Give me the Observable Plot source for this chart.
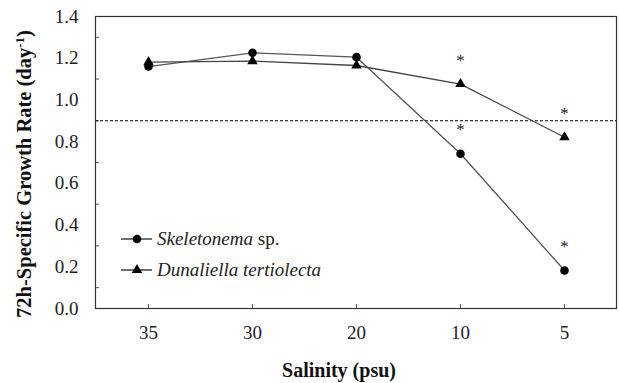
<!DOCTYPE html>
<html>
<head>
<meta charset="utf-8">
<script src="https://cdn.jsdelivr.net/npm/d3@7"></script>
<script src="https://cdn.jsdelivr.net/npm/@observablehq/plot@0.6"></script>
<style>
  html, body { margin: 0; padding: 0; background: #fff; }
  #chart { width: 619px; height: 383px; }
</style>
</head>
<body>
<div id="chart"></div>
<script>
const salinity = ["35", "30", "20", "10", "5"];
const skeletonema = [1.16, 1.226, 1.205, 0.742, 0.182];
const dunaliella = [1.181, 1.186, 1.165, 1.076, 0.821];
const skeletonemaSig = [false, false, false, true, true];
const dunaliellaSig = [false, false, false, true, true];
const yTicks = [0, 0.2, 0.4, 0.6, 0.8, 1.0, 1.2, 1.4];
const yMinorTicks = [0.1, 0.3, 0.5, 0.7, 0.9, 1.1, 1.3];
const threshold = 0.9;

const rows = [];
salinity.forEach((s, i) => {
  rows.push({sal: s, value: skeletonema[i], series: "Skeletonema", sig: skeletonemaSig[i]});
  rows.push({sal: s, value: dunaliella[i], series: "Dunaliella", sig: dunaliellaSig[i]});
});
const sk = rows.filter(d => d.series === "Skeletonema");
const du = rows.filter(d => d.series === "Dunaliella");

const font = "Liberation Serif, Times New Roman, serif";

const plot = Plot.plot({
  width: 619,
  height: 383,
  marginLeft: 95,
  marginRight: 3,
  marginTop: 16,
  marginBottom: 75,
  style: {fontFamily: font, fontSize: "19px", color: "#222", background: "#fff"},
  x: {type: "point", domain: salinity, padding: 0.5},
  y: {domain: [0, 1.4]},
  marks: [
    Plot.axisY({ticks: yTicks, tickSize: 0, tickPadding: 17, tickFormat: d3.format(".1f"), label: null, fontSize: 19, fontFamily: font, fill: "#222"}),
    Plot.axisY({ticks: yMinorTicks, tickSize: 4, dx: 4, text: null, label: null, stroke: "#555"}),
    Plot.axisX({tickSize: 0, tickPadding: 17, label: null, fontSize: 19, fontFamily: font, fill: "#222"}),
    Plot.axisX({tickSize: 4, dy: -4, text: null, label: null, stroke: "#555"}),
    Plot.ruleY([threshold], {stroke: "#000", strokeWidth: 1.1, strokeDasharray: "3,2"}),
    Plot.line(sk, {x: "sal", y: "value", stroke: "#555", strokeWidth: 1.3}),
    Plot.line(du, {x: "sal", y: "value", stroke: "#444", strokeWidth: 1.3}),
    Plot.dot(du, {x: "sal", y: "value", symbol: "triangle", r: 3.9, fill: "#000", stroke: null}),
    Plot.dot(sk, {x: "sal", y: "value", symbol: "circle", r: 4.3, fill: "#000", stroke: null}),
    Plot.text(rows.filter(d => d.sig), {x: "sal", y: "value", text: () => "*", dy: -24, fontSize: 17, fontFamily: font, fill: "#222", lineAnchor: "middle"}),
    Plot.frame({stroke: "#333", strokeWidth: 1.2})
  ]
});

document.getElementById("chart").appendChild(plot);

const svg = d3.select(plot);
// Axis titles
svg.append("text")
  .attr("x", 339).attr("y", 377)
  .attr("text-anchor", "middle")
  .attr("font-family", font).attr("font-weight", "bold").attr("font-size", 20)
  .attr("fill", "#111")
  .text("Salinity (psu)");

const yt = svg.append("text")
  .attr("transform", "translate(31,174) rotate(-90)")
  .attr("text-anchor", "middle")
  .attr("font-family", font).attr("font-weight", "bold").attr("font-size", 20.5)
  .attr("fill", "#111");
yt.append("tspan").text("72h-Specific Growth Rate (day");
yt.append("tspan").attr("font-size", 13).attr("dy", -7).text("-1");
yt.append("tspan").attr("dy", 7).text(")");

// Legend
const legend = [
  {name: "Skeletonema", suffix: " sp.", symbol: d3.symbolCircle, size: Math.PI * 4.3 * 4.3, y: 239},
  {name: "Dunaliella tertiolecta", suffix: "", symbol: d3.symbolTriangle, size: Math.PI * 3.9 * 3.9, y: 270}
];
legend.forEach(l => {
  const g = svg.append("g");
  g.append("line").attr("x1", 121).attr("x2", 152).attr("y1", l.y).attr("y2", l.y)
    .attr("stroke", "#222").attr("stroke-width", 1.3);
  g.append("path").attr("d", d3.symbol(l.symbol, l.size)()).attr("transform", `translate(137,${l.y})`).attr("fill", "#000");
  const t = g.append("text").attr("x", 157).attr("y", l.y + 6)
    .attr("text-anchor", "start")
    .attr("font-family", font).attr("font-size", 19).attr("fill", "#222");
  t.append("tspan").attr("font-style", "italic").text(l.name);
  if (l.suffix) t.append("tspan").text(l.suffix);
});
</script>
</body>
</html>
